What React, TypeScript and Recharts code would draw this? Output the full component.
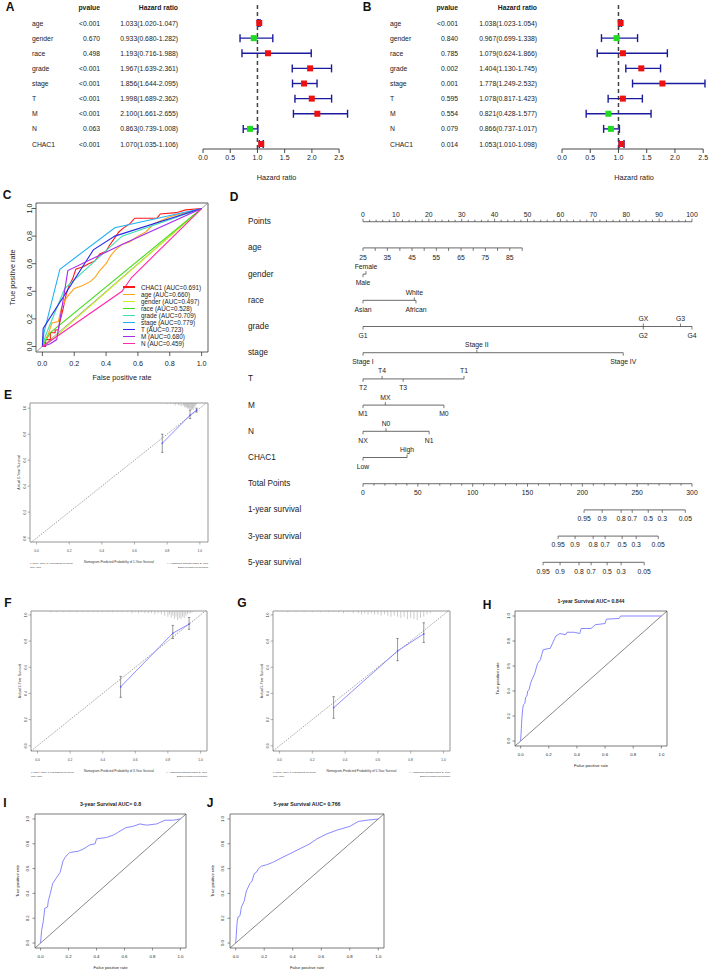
import React from 'react';
import { ComposedChart, Line, Scatter, XAxis, YAxis, ErrorBar, ReferenceLine, ReferenceArea, Legend } from 'recharts';

const FF = "'Liberation Sans', Arial, Helvetica, sans-serif";
const INK = '#222222';

// ---------------- Panels A / B : forest plots ----------------
const forestVars = ['age', 'gender', 'race', 'grade', 'stage', 'T', 'M', 'N', 'CHAC1'];
const uniP = ['<0.001', '0.670', '0.498', '<0.001', '<0.001', '<0.001', '<0.001', '0.063', '<0.001'];
const uniHR = [1.033, 0.933, 1.193, 1.967, 1.856, 1.998, 2.1, 0.863, 1.07];
const uniLow = [1.02, 0.68, 0.716, 1.639, 1.644, 1.689, 1.661, 0.739, 1.035];
const uniHigh = [1.047, 1.282, 1.988, 2.361, 2.095, 2.362, 2.655, 1.008, 1.106];
const multiP = ['<0.001', '0.840', '0.785', '0.002', '0.001', '0.595', '0.554', '0.079', '0.014'];
const multiHR = [1.038, 0.967, 1.079, 1.404, 1.778, 1.078, 0.821, 0.866, 1.053];
const multiLow = [1.023, 0.699, 0.624, 1.13, 1.249, 0.817, 0.428, 0.737, 1.01];
const multiHigh = [1.054, 1.338, 1.866, 1.745, 2.532, 1.423, 1.577, 1.017, 1.098];
const hrTicks = [0, 0.5, 1, 1.5, 2, 2.5];
const forestRowTicks = [0, 1, 2, 3, 4, 5, 6, 7, 8, 9];

// ---------------- Panel C : ROC of clinical variables ----------------
const rocVars = ['CHAC1', 'age', 'gender', 'race', 'grade', 'stage', 'T', 'M', 'N'];
const rocAUC = ['0.691', '0.660', '0.497', '0.528', '0.709', '0.779', '0.723', '0.680', '0.459'];
const rocColors = ['#ff1a1a', '#ffa31a', '#c4ee1e', '#44dd1a', '#3ee0b0', '#22b0f4', '#2a2ae8', '#a52af0', '#ff2aa8'];
const chac1FPR = [0, 0.02, 0.02, 0.05, 0.05, 0.08, 0.08, 0.1, 0.11, 0.13, 0.14, 0.15, 0.17, 0.19, 0.21, 0.26, 0.29, 0.33, 0.36, 0.4, 0.42, 0.45, 0.48, 0.51, 0.55, 0.58, 0.72, 0.74, 0.84, 0.9, 1];
const chac1TPR = [0, 0, 0.05, 0.05, 0.1, 0.1, 0.12, 0.12, 0.18, 0.27, 0.33, 0.38, 0.45, 0.49, 0.56, 0.58, 0.6, 0.62, 0.67, 0.69, 0.73, 0.78, 0.83, 0.86, 0.89, 0.93, 0.93, 0.96, 0.97, 0.99, 1];
const ageFPR = [0, 0.04, 0.06, 0.1, 0.12, 0.15, 0.17, 0.2, 0.25, 0.3, 0.33, 0.36, 0.4, 0.43, 0.46, 0.5, 0.55, 0.6, 0.65, 0.7, 0.8, 0.9, 1];
const ageTPR = [0, 0.1, 0.17, 0.18, 0.28, 0.35, 0.38, 0.42, 0.44, 0.47, 0.5, 0.55, 0.6, 0.66, 0.7, 0.74, 0.76, 0.8, 0.83, 0.89, 0.94, 0.97, 1];
const genderFPR = [0, 0.04, 1];
const genderTPR = [0, 0.03, 1];
const raceFPR = [0, 0.05, 1];
const raceTPR = [0, 0.1, 1];
const gradeFPR = [0, 0.02, 0.14, 0.5, 1];
const gradeTPR = [0, 0.08, 0.42, 0.8, 1];
const stageFPR = [0, 0.01, 0.11, 0.455, 1];
const stageTPR = [0, 0.1, 0.56, 0.86, 1];
const tFPR = [0, 0.005, 0.32, 0.455, 1];
const tTPR = [0, 0.13, 0.7, 0.8, 1];
const mFPR = [0, 0.05, 0.09, 0.16, 0.5, 1];
const mTPR = [0, 0.02, 0.05, 0.55, 0.74, 1];
const nFPR = [0, 0.5, 0.56, 1];
const nTPR = [0, 0.4, 0.5, 1];
const rocFPR = [chac1FPR, ageFPR, genderFPR, raceFPR, gradeFPR, stageFPR, tFPR, mFPR, nFPR];
const rocTPR = [chac1TPR, ageTPR, genderTPR, raceTPR, gradeTPR, stageTPR, tTPR, mTPR, nTPR];

// ---------------- Panel D : nomogram ----------------
const nomoRows = ['Points', 'age', 'gender', 'race', 'grade', 'stage', 'T', 'M', 'N', 'CHAC1', 'Total Points', '1-year survival', '3-year survival', '5-year survival'];
const pointsLabels = [0, 10, 20, 30, 40, 50, 60, 70, 80, 90, 100];
const ageValues = [25, 30, 35, 40, 45, 50, 55, 60, 65, 70, 75, 80, 85, 90];
const agePoints = [0, 3.7, 7.4, 11.2, 14.9, 18.6, 22.3, 26.0, 29.8, 33.5, 37.2, 40.9, 44.6, 48.4];
const ageLabeled = [25, 35, 45, 55, 65, 75, 85];
const genderLevels = ['Female', 'Male'];
const genderPoints = [0.9, 0];
const genderSides = ['a', 'b'];
const raceLevels = ['Asian', 'White', 'African'];
const racePoints = [0, 15.6, 16.1];
const raceSides = ['b', 'a', 'b'];
const gradeLevels = ['G1', 'GX', 'G2', 'G3', 'G4'];
const gradePoints = [0, 85.2, 85.2, 96.5, 100];
const gradeSides = ['b', 'a', 'b', 'a', 'b'];
const stageLevels = ['Stage I', 'Stage II', 'Stage IV'];
const stagePoints = [0, 34.6, 79.1];
const stageSides = ['b', 'a', 'b'];
const tLevels = ['T2', 'T4', 'T3', 'T1'];
const tPoints = [0, 5.8, 12.2, 30.7];
const tSides = ['b', 'a', 'b', 'a'];
const mLevels = ['M1', 'MX', 'M0'];
const mPoints = [0, 6.8, 24.6];
const mSides = ['b', 'a', 'b'];
const nLevels = ['NX', 'N0', 'N1'];
const nPoints = [0, 7.0, 20.1];
const nSides = ['b', 'a', 'b'];
const chacLevels = ['Low', 'High'];
const chacPoints = [0, 13.4];
const chacSides = ['b', 'a'];
const totalLabels = [0, 50, 100, 150, 200, 250, 300];
const survLabels = ['0.95', '0.9', '0.8', '0.7', '0.5', '0.3', '0.05'];
const surv1Total = [201.6, 218.1, 235.4, 245.5, 260.1, 272.9, 293.9];
const surv3Total = [177.9, 193.4, 209.9, 220.8, 236.3, 249.1, 269.2];
const surv5Total = [164.2, 179.7, 197.0, 208.0, 222.6, 235.4, 256.4];

// ---------------- Panels E / F / G : calibration ----------------
const calE_pred = [0.77, 0.94, 0.98];
const calE_obs = [0.73, 0.946, 0.985];
const calE_low = [0.66, 0.92, 0.97];
const calE_high = [0.8, 0.985, 1.0];
const calF_pred = [0.51, 0.83, 0.93];
const calF_obs = [0.45, 0.86, 0.93];
const calF_low = [0.37, 0.82, 0.89];
const calF_high = [0.53, 0.92, 0.98];
const calG_pred = [0.33, 0.72, 0.88];
const calG_obs = [0.29, 0.725, 0.855];
const calG_low = [0.21, 0.65, 0.79];
const calG_high = [0.375, 0.82, 0.94];
const rugE_x = [0.8, 0.82, 0.84, 0.85, 0.86, 0.87, 0.88, 0.89, 0.9, 0.905, 0.91, 0.915, 0.92, 0.925, 0.93, 0.935, 0.94, 0.945, 0.95, 0.955, 0.96, 0.965, 0.97, 0.975, 0.98];
const rugE_n = [1, 1, 1, 2, 1, 2, 2, 3, 2, 3, 4, 3, 4, 5, 4, 5, 6, 5, 6, 5, 6, 4, 3, 2, 1];
const rugF_x = [0.08, 0.12, 0.16, 0.2, 0.24, 0.28, 0.31, 0.34, 0.37, 0.4, 0.43, 0.46, 0.49, 0.52, 0.55, 0.58, 0.6, 0.62, 0.64, 0.66, 0.68, 0.7, 0.72, 0.74, 0.76, 0.78, 0.8, 0.81, 0.82, 0.83, 0.84, 0.85, 0.86, 0.87, 0.88, 0.89, 0.9, 0.91, 0.92, 0.93, 0.94, 0.95];
const rugF_n = [1, 1, 1, 1, 1, 1, 1, 1, 1, 1, 1, 1, 1, 1, 1, 2, 1, 2, 1, 2, 2, 2, 3, 2, 3, 4, 5, 3, 6, 4, 7, 5, 8, 6, 7, 5, 6, 4, 3, 2, 2, 1];
const rugG_x = [0.05, 0.1, 0.15, 0.2, 0.25, 0.3, 0.33, 0.36, 0.39, 0.42, 0.45, 0.48, 0.5, 0.52, 0.54, 0.56, 0.58, 0.6, 0.62, 0.64, 0.66, 0.68, 0.7, 0.72, 0.74, 0.76, 0.78, 0.8, 0.82, 0.84, 0.86, 0.88, 0.9, 0.92];
const rugG_n = [1, 1, 1, 1, 1, 1, 1, 1, 2, 1, 2, 2, 3, 2, 3, 2, 3, 3, 4, 3, 4, 5, 4, 5, 6, 5, 7, 6, 7, 8, 6, 5, 3, 2];

// ---------------- Panels H / I / J : time-dependent ROC ----------------
const h_FPR = [0, 0.005, 0.01, 0.015, 0.02, 0.03, 0.035, 0.045, 0.05, 0.06, 0.07, 0.08, 0.1, 0.11, 0.12, 0.14, 0.15, 0.16, 0.2, 0.21, 0.23, 0.25, 0.28, 0.32, 0.33, 0.38, 0.42, 0.43, 0.5, 0.53, 0.6, 0.61, 0.7, 0.71, 1];
const h_TPR = [0, 0.1, 0.2, 0.26, 0.29, 0.3, 0.35, 0.36, 0.4, 0.41, 0.46, 0.49, 0.54, 0.58, 0.62, 0.65, 0.69, 0.73, 0.74, 0.74, 0.79, 0.84, 0.86, 0.85, 0.87, 0.87, 0.86, 0.9, 0.9, 0.93, 0.94, 0.975, 0.98, 1, 1];
const i_FPR = [0, 0.007, 0.02, 0.03, 0.05, 0.055, 0.07, 0.086, 0.11, 0.14, 0.16, 0.175, 0.19, 0.21, 0.27, 0.31, 0.35, 0.39, 0.4, 0.47, 0.52, 0.55, 0.61, 0.66, 0.71, 0.76, 0.83, 0.89, 0.95, 1];
const i_TPR = [0, 0.1, 0.18, 0.28, 0.29, 0.34, 0.4, 0.48, 0.52, 0.57, 0.66, 0.69, 0.71, 0.73, 0.74, 0.76, 0.79, 0.8, 0.84, 0.85, 0.87, 0.89, 0.93, 0.94, 0.96, 0.95, 0.96, 0.99, 0.99, 1];
const j_FPR = [0, 0.01, 0.016, 0.03, 0.04, 0.06, 0.075, 0.1, 0.115, 0.13, 0.145, 0.16, 0.18, 0.215, 0.26, 0.31, 0.38, 0.45, 0.52, 0.57, 0.64, 0.71, 0.8, 0.86, 0.92, 1];
const j_TPR = [0, 0.17, 0.21, 0.22, 0.29, 0.34, 0.42, 0.48, 0.5, 0.56, 0.57, 0.6, 0.62, 0.63, 0.65, 0.68, 0.72, 0.76, 0.8, 0.84, 0.88, 0.91, 0.94, 0.98, 0.99, 1];

const unitTicks = [0, 0.2, 0.4, 0.6, 0.8, 1];
const f1 = (v: any) => Number(v).toFixed(1);

const mkXTick = (fs: number, y: number, color: string = INK) => (t: any) => (
  <text x={t.x} y={y} textAnchor="middle" dominantBaseline="central" fontSize={fs} fill={color}>{f1(t.payload.value)}</text>
);
const mkYTick = (fs: number, x: number, color: string = INK) => (t: any) => (
  <text x={x} y={t.y} transform={`rotate(-90 ${x} ${t.y})`} textAnchor="middle" dominantBaseline="central" fontSize={fs} fill={color}>{f1(t.payload.value)}</text>
);

// ---------- Forest ----------
function Forest(props: any) {
  const { left, width, plotLeft, mRight, xMax, cols, p, hr, lo, hi } = props;
  const rows = forestVars.map((name, i) => ({ x: hr[i], y: i + 1, name, p: p[i], lo: lo[i], hi: hi[i], err: [hr[i] - lo[i], hi[i] - hr[i]] }));
  const yMin = -0.19;
  const yMax = 9.33;
  const renderTick = (t: any) => {
    const y = t.y;
    const r = t.payload.value;
    if (r === 0) {
      return (
        <g fill={INK} fontSize={6.8} fontWeight="bold">
          <text x={cols[1]} y={y} textAnchor="end" dominantBaseline="central">pvalue</text>
          <text x={cols[2]} y={y} textAnchor="end" dominantBaseline="central">Hazard ratio</text>
        </g>
      );
    }
    const d = rows[r - 1];
    return (
      <g fill={INK} fontSize={6.8}>
        <text x={cols[0]} y={y} textAnchor="start" dominantBaseline="central">{d.name}</text>
        <text x={cols[1]} y={y} textAnchor="end" dominantBaseline="central">{d.p}</text>
        <text x={cols[2]} y={y} textAnchor="end" dominantBaseline="central">{`${d.x.toFixed(3)}(${d.lo.toFixed(3)}-${d.hi.toFixed(3)})`}</text>
      </g>
    );
  };
  const square = (s: any) => (
    <rect x={s.cx - 3} y={s.cy - 3} width={6} height={6} fill={s.payload.x > 1 ? '#ee1111' : '#1fdc1f'} />
  );
  return (
    <div style={{ position: 'absolute', left, top: 0 }}>
      <ComposedChart width={width} height={185} margin={{ top: 5, right: mRight, bottom: 4, left: 0 }}>
        <XAxis type="number" dataKey="x" domain={[0, xMax]} ticks={hrTicks} interval={0} axisLine={false} tickSize={4}
          tickLine={{ stroke: '#333', strokeWidth: 0.9 }} tick={{ fontSize: 7, fill: INK }} tickFormatter={(v: number) => v.toFixed(1)}
          height={32} label={{ value: 'Hazard ratio', position: 'insideBottom', offset: 1, fontSize: 7.3, fill: INK }} />
        <YAxis type="number" dataKey="y" domain={[yMin, yMax]} reversed ticks={forestRowTicks} interval={0} width={plotLeft}
          axisLine={false} tickLine={false} tick={renderTick} />
        <ReferenceLine x={1} stroke="#444" strokeDasharray="4 3" strokeWidth={1.5} />
        <ReferenceLine segment={[{ x: 0, y: yMax }, { x: 2.5, y: yMax }]} stroke="#333" strokeWidth={0.9} />
        <Scatter data={rows} shape={() => <g />} isAnimationActive={false}>
          <ErrorBar dataKey="err" direction="x" width={4} stroke="#1b1b9e" strokeWidth={1.4} />
        </Scatter>
        <Scatter data={rows} shape={square} isAnimationActive={false} />
      </ComposedChart>
    </div>
  );
}

// ---------- ROC multi ----------
function RocMulti() {
  const series = rocVars.map((name, i) => ({
    name, color: rocColors[i], auc: rocAUC[i],
    data: rocFPR[i].map((x, j) => ({ x, y: rocTPR[i][j] })),
  }));
  const D = [-0.04, 1.04];
  const plotLeft = 36, plotTop = 18, plotBottom = 167, plotRight = 208;
  const cy = (plotTop + plotBottom) / 2;
  return (
    <div style={{ position: 'absolute', left: 0, top: 185 }}>
      <ComposedChart width={230} height={200} margin={{ top: 18, right: 22, bottom: 3, left: 0 }}>
        <XAxis type="number" dataKey="x" domain={D} ticks={unitTicks} interval={0} axisLine={false} tickSize={4}
          tickLine={{ stroke: '#333', strokeWidth: 0.8 }} height={30} tick={mkXTick(7.2, plotBottom + 11)}
          label={() => <text x={(plotLeft + plotRight) / 2} y={plotBottom + 25} textAnchor="middle" dominantBaseline="central" fontSize={7.3} fill={INK}>False positive rate</text>} />
        <YAxis type="number" dataKey="y" domain={D} ticks={unitTicks} interval={0} axisLine={false} tickSize={4}
          tickLine={{ stroke: '#333', strokeWidth: 0.8 }} width={36} tick={mkYTick(7.2, plotLeft - 6)}
          label={() => <text x={12} y={cy} transform={`rotate(-90 12 ${cy})`} textAnchor="middle" dominantBaseline="central" fontSize={7.3} fill={INK}>True positive rate</text>} />
        <ReferenceArea x1={D[0]} x2={D[1]} y1={D[0]} y2={D[1]} fill="none" stroke="#333" strokeWidth={0.8} ifOverflow="visible" />
        <ReferenceLine segment={[{ x: D[0], y: D[0] }, { x: D[1], y: D[1] }]} stroke="#888" strokeWidth={0.8} />
        {series.map((s) => (
          <Line key={s.name} name={s.name} data={s.data} dataKey="y" type="linear" stroke={s.color} strokeWidth={1.1} dot={false} isAnimationActive={false} />
        ))}
        <Legend layout="vertical" align="center" verticalAlign="middle" wrapperStyle={{ left: 123, top: 98.5, width: 100 }}
          content={() => (
            <div>
              {series.map((s) => (
                <div key={s.name} style={{ display: 'flex', alignItems: 'center', height: 7.1 }}>
                  <span style={{ display: 'inline-block', width: 12, height: 1.2, background: s.color, marginRight: 6 }} />
                  <span style={{ fontSize: 6.3, color: INK, lineHeight: '7.1px', whiteSpace: 'nowrap' }}>{`${s.name} (AUC=${s.auc})`}</span>
                </div>
              ))}
            </div>
          )} />
      </ComposedChart>
    </div>
  );
}

// ---------- Nomogram ----------
function buildNomo() {
  const marks: any[] = [];
  const push = (row: number, xs: number[], labels: string[], sides: string[]) =>
    xs.forEach((x, i) => marks.push({ x, y: row, label: labels[i], side: sides[i] }));
  pointsLabels.forEach((v) => marks.push({ x: v, y: 0, label: String(v), side: 'a' }));
  for (let v = 2; v < 100; v += 2) if (v % 10 !== 0) marks.push({ x: v, y: 0, label: '', side: 'a', minor: true });
  ageValues.forEach((a, i) => marks.push({ x: agePoints[i], y: 1, label: ageLabeled.includes(a) ? String(a) : '', side: 'B' }));
  push(2, genderPoints, genderLevels, genderSides);
  push(3, racePoints, raceLevels, raceSides);
  push(4, gradePoints, gradeLevels, gradeSides);
  push(5, stagePoints, stageLevels, stageSides);
  push(6, tPoints, tLevels, tSides);
  push(7, mPoints, mLevels, mSides);
  push(8, nPoints, nLevels, nSides);
  push(9, chacPoints, chacLevels, chacSides);
  totalLabels.forEach((v) => marks.push({ x: v / 3, y: 10, label: String(v), side: 'b' }));
  for (let v = 10; v < 300; v += 10) if (v % 50 !== 0) marks.push({ x: v / 3, y: 10, label: '', side: 'b', minor: true });
  surv1Total.forEach((t, i) => marks.push({ x: t / 3, y: 11, label: survLabels[i], side: 'b' }));
  surv3Total.forEach((t, i) => marks.push({ x: t / 3, y: 12, label: survLabels[i], side: 'b' }));
  surv5Total.forEach((t, i) => marks.push({ x: t / 3, y: 13, label: survLabels[i], side: 'b' }));
  const spans: any[] = nomoRows.map((_, r) => {
    const xs = marks.filter((m) => m.y === r).map((m) => m.x);
    return { row: r, from: Math.min(...xs), to: Math.max(...xs) };
  });
  return { marks, spans };
}

const NomoMark = (s: any) => {
  const { cx, cy, payload } = s;
  const up = payload.side === 'a';
  const len = payload.minor ? 2 : 3;
  const off = payload.side === 'a' ? (payload.y === 0 ? -7.5 : -8) : payload.side === 'B' ? 9.8 : 8.7;
  return (
    <g>
      <line x1={cx} x2={cx} y1={cy} y2={up ? cy - len : cy + len} stroke="#444" strokeWidth={0.7} />
      {payload.label !== '' && (
        <text x={cx} y={cy + off} textAnchor="middle" dominantBaseline="central" fontSize={6.8} fill={INK}>{payload.label}</text>
      )}
    </g>
  );
};

function Nomogram() {
  const { marks, spans } = buildNomo();
  const rowTicks = nomoRows.map((_, i) => i);
  return (
    <div style={{ position: 'absolute', left: 230, top: 190 }}>
      <ComposedChart width={479} height={390} margin={{ top: 16, right: 17, bottom: 4.6, left: 0 }}>
        <XAxis type="number" dataKey="x" domain={[0, 100]} hide />
        <YAxis type="number" dataKey="y" domain={[-0.6, 13.5]} reversed ticks={rowTicks} interval={0} width={133}
          axisLine={false} tickLine={false}
          tick={(t: any) => <text x={18} y={t.y} dominantBaseline="central" fontSize={8.2} fill={INK}>{nomoRows[t.payload.value]}</text>} />
        {spans.map((sp) => (
          <ReferenceLine key={sp.row} segment={[{ x: sp.from, y: sp.row }, { x: sp.to, y: sp.row }]} stroke="#444" strokeWidth={0.8} />
        ))}
        <Scatter data={marks} shape={NomoMark} isAnimationActive={false} />
      </ComposedChart>
    </div>
  );
}

// ---------- Calibration ----------
const RugMark = (s: any) => (
  <line x1={s.cx} x2={s.cx} y1={s.cy} y2={s.cy + s.payload.n * 1.15} stroke="#999" strokeWidth={0.5} />
);

function Calib(props: any) {
  const { left, top, yAxisW, mRight, mBottom, xh, xDom, yDom, pred, obs, low, high, rugX, rugN, yr } = props;
  const W = 230, H = 180, mTop = 8;
  const plotLeft = yAxisW, plotRight = W - mRight, plotTop = mTop, plotBottom = H - mBottom - xh;
  const cx = (plotLeft + plotRight) / 2, cy = (plotTop + plotBottom) / 2;
  const pts = pred.map((x: number, i: number) => ({ x, y: obs[i], err: [obs[i] - low[i], high[i] - obs[i]] }));
  const rug = rugX.map((x: number, i: number) => ({ x, y: yDom[1], n: rugN[i] }));
  const dLo = Math.max(xDom[0], yDom[0]);
  const dHi = Math.min(xDom[1], yDom[1]);
  return (
    <div style={{ position: 'absolute', left, top }}>
      <ComposedChart width={W} height={H} margin={{ top: mTop, right: mRight, bottom: mBottom, left: 0 }}>
        <XAxis type="number" dataKey="x" domain={xDom} ticks={unitTicks} interval={0} axisLine={false} tickSize={2.5}
          tickLine={{ stroke: '#666', strokeWidth: 0.5 }} height={xh} tick={mkXTick(3.3, plotBottom + 9, '#444')}
          label={() => (
            <g fill="#333">
              <text x={cx} y={plotBottom + 20} textAnchor="middle" dominantBaseline="central" fontSize={3.1}>{`Nomogram-Predicted Probability of ${yr}-Year Survival`}</text>
              <text x={plotLeft} y={plotBottom + 21} dominantBaseline="central" fontSize={2.3}>n=515 d=173 p=5, 103 subjects per group</text>
              <text x={plotLeft} y={plotBottom + 24.5} dominantBaseline="central" fontSize={2.3}>Gray: ideal</text>
              <text x={plotRight} y={plotBottom + 21} textAnchor="end" dominantBaseline="central" fontSize={2.3}>X - resampling optimism added, B=1000</text>
              <text x={plotRight} y={plotBottom + 24.5} textAnchor="end" dominantBaseline="central" fontSize={2.3}>Based on observed-predicted</text>
            </g>
          )} />
        <YAxis type="number" dataKey="y" domain={yDom} ticks={unitTicks} interval={0} axisLine={false} tickSize={2.5}
          tickLine={{ stroke: '#666', strokeWidth: 0.5 }} width={yAxisW} tick={mkYTick(3.4, plotLeft - 5, '#444')}
          label={() => (
            <text x={plotLeft - 11} y={cy} transform={`rotate(-90 ${plotLeft - 11} ${cy})`} textAnchor="middle" dominantBaseline="central" fontSize={3.5} fill="#333">{`Actual ${yr}-Year Survival`}</text>
          )} />
        <ReferenceArea x1={xDom[0]} x2={xDom[1]} y1={yDom[0]} y2={yDom[1]} fill="none" stroke="#8a8a8a" strokeWidth={0.9} ifOverflow="visible" />
        <ReferenceLine segment={[{ x: dLo, y: dLo }, { x: dHi, y: dHi }]} stroke="#555" strokeWidth={0.6} strokeDasharray="1.2 1.2" />
        <Scatter data={rug} shape={RugMark} isAnimationActive={false} />
        <Scatter data={pts} shape={() => <g />} isAnimationActive={false}>
          <ErrorBar dataKey="err" direction="y" width={1.2} stroke="#333" strokeWidth={0.5} />
        </Scatter>
        <Line data={pts} dataKey="y" type="linear" stroke="#7070ff" strokeWidth={0.8} dot={{ r: 0.8, fill: '#5050ff', stroke: 'none' }} isAnimationActive={false} />
      </ComposedChart>
    </div>
  );
}

// ---------- Survival ROC ----------
function SurvROC(props: any) {
  const { left, top, width, height, yAxisW, mTop, mRight, mBottom, xh, title, fpr, tpr } = props;
  const plotLeft = yAxisW, plotRight = width - mRight, plotTop = mTop, plotBottom = height - mBottom - xh;
  const cx = (plotLeft + plotRight) / 2, cy = (plotTop + plotBottom) / 2;
  const data = fpr.map((x: number, i: number) => ({ x, y: tpr[i] }));
  const D = [-0.04, 1.04];
  return (
    <div style={{ position: 'absolute', left, top }}>
      <ComposedChart width={width} height={height} margin={{ top: mTop, right: mRight, bottom: mBottom, left: 0 }}>
        <XAxis type="number" dataKey="x" domain={D} ticks={unitTicks} interval={0} axisLine={false} tickSize={2.5}
          tickLine={{ stroke: '#444', strokeWidth: 0.6 }} height={xh} tick={mkXTick(4.3, plotBottom + 8)}
          label={() => (
            <g fill={INK}>
              <text x={cx} y={plotBottom + 19} textAnchor="middle" dominantBaseline="central" fontSize={4.2}>False positive rate</text>
              <text x={cx} y={plotTop - 10.5} textAnchor="middle" dominantBaseline="central" fontSize={5.2} fontWeight="bold">{title}</text>
            </g>
          )} />
        <YAxis type="number" dataKey="y" domain={D} ticks={unitTicks} interval={0} axisLine={false} tickSize={2.5}
          tickLine={{ stroke: '#444', strokeWidth: 0.6 }} width={yAxisW} tick={mkYTick(4.3, plotLeft - 7)}
          label={() => (
            <text x={plotLeft - 17.5} y={cy} transform={`rotate(-90 ${plotLeft - 17.5} ${cy})`} textAnchor="middle" dominantBaseline="central" fontSize={4.2} fill={INK}>True positive rate</text>
          )} />
        <ReferenceArea x1={D[0]} x2={D[1]} y1={D[0]} y2={D[1]} fill="none" stroke="#444" strokeWidth={0.7} ifOverflow="visible" />
        <ReferenceLine segment={[{ x: D[0], y: D[0] }, { x: D[1], y: D[1] }]} stroke="#555" strokeWidth={0.7} />
        <Line data={data} dataKey="y" type="linear" stroke="#7272ff" strokeWidth={0.85} dot={false} isAnimationActive={false} />
      </ComposedChart>
    </div>
  );
}

const Letter = ({ ch, x, y }: any) => (
  <div style={{ position: 'absolute', left: x, top: y, transform: 'translate(-50%, -50%)', fontSize: 12, lineHeight: '12px', fontWeight: 'bold', color: '#111' }}>{ch}</div>
);

export default function App() {
  return (
    <div style={{ position: 'absolute', left: 0, top: 0, width: 709, height: 970, background: '#fff', overflow: 'hidden', fontFamily: FF, color: INK }}>
      <Forest left={0} width={355} plotLeft={203} mRight={5} xMax={2.7} cols={[32, 100, 178]} p={uniP} hr={uniHR} lo={uniLow} hi={uniHigh} />
      <Forest left={355} width={354} plotLeft={207} mRight={3} xMax={2.55} cols={[35, 103, 182]} p={multiP} hr={multiHR} lo={multiLow} hi={multiHigh} />
      <RocMulti />
      <Nomogram />
      <Calib left={0} top={395} yAxisW={30} mRight={22} mBottom={5} xh={28} xDom={[-0.04, 1.05]} yDom={[-0.03, 1.04]}
        pred={calE_pred} obs={calE_obs} low={calE_low} high={calE_high} rugX={rugE_x} rugN={rugE_n} yr={1} />
      <Calib left={0} top={603} yAxisW={31} mRight={23} mBottom={4} xh={28} xDom={[-0.04, 1.04]} yDom={[-0.04, 1.03]}
        pred={calF_pred} obs={calF_obs} low={calF_low} high={calF_high} rugX={rugF_x} rugN={rugF_n} yr={3} />
      <Calib left={242} top={603} yAxisW={31} mRight={22} mBottom={4} xh={28} xDom={[-0.04, 1.04]} yDom={[-0.04, 1.03]}
        pred={calG_pred} obs={calG_obs} low={calG_low} high={calG_high} rugX={rugG_x} rugN={rugG_n} yr={5} />
      <SurvROC left={470} top={590} width={239} height={185} yAxisW={45} mTop={21} mRight={42} mBottom={4} xh={25}
        title="1-year Survival AUC= 0.844" fpr={h_FPR} tpr={h_TPR} />
      <SurvROC left={0} top={795} width={230} height={175} yAxisW={35} mTop={19} mRight={44} mBottom={0} xh={22}
        title="3-year Survival AUC= 0.8" fpr={i_FPR} tpr={i_TPR} />
      <SurvROC left={195} top={795} width={230} height={175} yAxisW={35} mTop={19} mRight={41} mBottom={0} xh={22}
        title="5-year Survival AUC= 0.766" fpr={j_FPR} tpr={j_TPR} />
      <Letter ch="A" x={10} y={7} />
      <Letter ch="B" x={367} y={7} />
      <Letter ch="C" x={7} y={195} />
      <Letter ch="D" x={234} y={197} />
      <Letter ch="E" x={8} y={395} />
      <Letter ch="F" x={8} y={603} />
      <Letter ch="G" x={242} y={603} />
      <Letter ch="H" x={487} y={605} />
      <Letter ch="I" x={5} y={803} />
      <Letter ch="J" x={210} y={803} />
    </div>
  );
}
